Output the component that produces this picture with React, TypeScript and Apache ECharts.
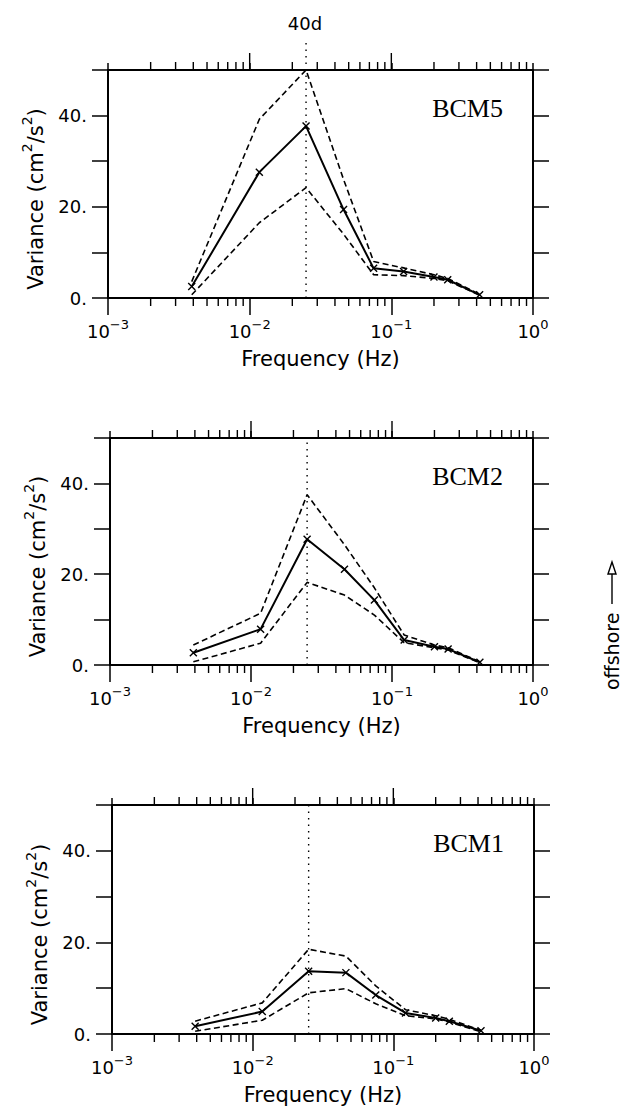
import React, { useEffect, useRef } from 'react';
import * as echarts from 'echarts';

// ---- data ----
const frequencies = [0.0039, 0.0117, 0.025, 0.046, 0.075, 0.122, 0.2, 0.25, 0.42];

const bcm5Mean = [2.5, 27.6, 37.7, 19.4, 6.5, 5.8, 4.6, 4.0, 0.7];
const bcm5Upper = [3.6, 39.2, 50.0, 26.0, 8.0, 6.6, 5.1, 4.3, 0.8];
const bcm5Lower = [0.7, 16.5, 24.2, 14.0, 5.1, 4.9, 4.3, 3.8, 0.6];

const bcm2Mean = [2.7, 7.9, 27.7, 21.1, 14.3, 5.5, 4.0, 3.5, 0.6];
const bcm2Upper = [4.4, 11.4, 37.5, 26.5, 17.0, 6.6, 4.4, 3.8, 0.7];
const bcm2Lower = [0.7, 4.8, 18.2, 15.4, 11.0, 4.9, 3.8, 3.3, 0.5];

const bcm1Mean = [1.7, 4.9, 13.7, 13.4, 8.5, 4.6, 3.5, 2.8, 0.7];
const bcm1Upper = [2.8, 6.8, 18.5, 17.0, 10.5, 5.3, 4.0, 3.2, 0.8];
const bcm1Lower = [0.6, 3.0, 9.0, 9.9, 6.6, 4.0, 3.3, 2.6, 0.5];

const panelNames = ['BCM5', 'BCM2', 'BCM1'];
const yLabelValues = [0, 20, 40];
const minorTicks = [
  0.002, 0.003, 0.004, 0.005, 0.006, 0.007, 0.008, 0.009,
  0.02, 0.03, 0.04, 0.05, 0.06, 0.07, 0.08, 0.09,
  0.2, 0.3, 0.4, 0.5, 0.6, 0.7, 0.8, 0.9,
];
const topMajorTicks = [0.01, 0.1];
const refFreq = 0.025;
const refLabel = '40d';
const refTopPanel1 = 57;

// ---- layout ----
const GRIDS = [
  { left: 108, top: 70, width: 425, height: 228 },
  { left: 110, top: 438, width: 423, height: 227 },
  { left: 112, top: 805, width: 422, height: 229 },
];
const SANS = 'DejaVu Sans, Verdana, sans-serif';
const SERIF = 'Liberation Serif, Times New Roman, serif';

const panels = [
  { name: panelNames[0], mean: bcm5Mean, upper: bcm5Upper, lower: bcm5Lower },
  { name: panelNames[1], mean: bcm2Mean, upper: bcm2Upper, lower: bcm2Lower },
  { name: panelNames[2], mean: bcm1Mean, upper: bcm1Upper, lower: bcm1Lower },
];

const zip = (ys: number[]) => frequencies.map((f, i) => [f, ys[i]]);

function buildOption() {
  const grid: any[] = [];
  const xAxis: any[] = [];
  const yAxis: any[] = [];
  const series: any[] = [];
  const graphic: any[] = [];

  const axisLine = { show: true, onZero: false, lineStyle: { color: '#000', width: 2 } };
  const tickStyle = { color: '#000', width: 1.5 };

  panels.forEach((p, i) => {
    const g = GRIDS[i];
    grid.push({ left: g.left, top: g.top, width: g.width, height: g.height, containLabel: false });

    xAxis.push({
      type: 'log',
      logBase: 10,
      gridIndex: i,
      position: 'bottom',
      min: 0.001,
      max: 1,
      axisLine,
      axisTick: { show: true, length: 17, lineStyle: tickStyle },
      splitLine: { show: false },
      axisLabel: {
        margin: 20,
        color: '#000',
        formatter: (v: number) => {
          const e = Math.round(Math.log10(v));
          return `{a|10}{b|${e < 0 ? '\u2212' + -e : e}}`;
        },
        rich: {
          a: { fontFamily: SANS, fontSize: 18, lineHeight: 22, verticalAlign: 'bottom', color: '#000' },
          b: { fontFamily: SANS, fontSize: 13, lineHeight: 13, verticalAlign: 'top', color: '#000' },
        },
      },
      name: 'Frequency (Hz)',
      nameLocation: 'middle',
      nameGap: 50,
      nameTextStyle: { fontFamily: SANS, fontSize: 21, color: '#000' },
    });
    xAxis.push({
      type: 'log',
      logBase: 10,
      gridIndex: i,
      position: 'top',
      min: 0.001,
      max: 1,
      axisLine,
      axisTick: { show: true, length: 7, lineStyle: tickStyle },
      splitLine: { show: false },
      axisLabel: { show: false },
    });

    yAxis.push({
      type: 'value',
      gridIndex: i,
      position: 'left',
      min: 0,
      max: 50,
      interval: 10,
      axisLine,
      axisTick: { show: true, length: 16, lineStyle: tickStyle },
      splitLine: { show: false },
      axisLabel: {
        margin: 21,
        color: '#000',
        fontFamily: SANS,
        fontSize: 18,
        formatter: (v: number) => (yLabelValues.includes(v) ? `${v}.` : ''),
      },
      name: '{n|Variance (cm}{s|2}{n|/s}{s|2}{n|)}',
      nameLocation: 'middle',
      nameRotate: 90,
      nameGap: 62,
      nameTextStyle: {
        color: '#000',
        padding: [0, 30, 0, 0],
        rich: {
          n: { fontFamily: SANS, fontSize: 21, lineHeight: 26, verticalAlign: 'bottom', color: '#000' },
          s: { fontFamily: SANS, fontSize: 14, lineHeight: 14, verticalAlign: 'top', color: '#000' },
        },
      },
    });
    yAxis.push({
      type: 'value',
      gridIndex: i,
      position: 'right',
      min: 0,
      max: 50,
      interval: 10,
      axisLine,
      axisTick: { show: true, length: 16, lineStyle: tickStyle },
      splitLine: { show: false },
      axisLabel: { show: false },
    });

    const xi = i * 2;
    const yi = i * 2;

    series.push({
      type: 'line',
      xAxisIndex: xi,
      yAxisIndex: yi,
      data: [
        [refFreq, 0],
        [refFreq, i === 0 ? refTopPanel1 : 50],
      ],
      symbol: 'none',
      clip: false,
      lineStyle: { color: '#000', width: 1.4, type: [1.5, 5] },
      silent: true,
      z: 1,
    });
    [p.upper, p.lower].forEach((band) => {
      series.push({
        type: 'line',
        xAxisIndex: xi,
        yAxisIndex: yi,
        data: zip(band),
        symbol: 'none',
        clip: false,
        lineStyle: { color: '#000', width: 1.6, type: [6, 3.5] },
        silent: true,
        z: 2,
      });
    });
    series.push({
      type: 'line',
      xAxisIndex: xi,
      yAxisIndex: yi,
      data: zip(p.mean),
      symbol: 'path://M0,0L10,10M10,0L0,10',
      symbolSize: 7,
      showSymbol: true,
      clip: false,
      itemStyle: { color: 'none', borderColor: '#000', borderWidth: 1.4 },
      lineStyle: { color: '#000', width: 2 },
      silent: true,
      z: 3,
    });
    // minor ticks (2..9 x 10^n) on bottom and top axes, plus long top ticks at inner decades
    const tickData = [
      ...minorTicks.map((v) => [v, 0, 8, 8]),
      ...topMajorTicks.map((v) => [v, 0, 0, 17]),
    ];
    series.push({
      type: 'custom',
      xAxisIndex: xi,
      yAxisIndex: yi,
      data: tickData,
      encode: { x: 0, y: 1 },
      clip: false,
      silent: true,
      renderItem: (_params: any, api: any) => {
        const v = api.value(0);
        const lenBottom = api.value(2);
        const lenTop = api.value(3);
        const b = api.coord([v, 0]);
        const t = api.coord([v, 50]);
        const style = { stroke: '#000', lineWidth: 1.4 };
        const children: any[] = [];
        if (lenBottom > 0) {
          children.push({ type: 'line', shape: { x1: b[0], y1: b[1], x2: b[0], y2: b[1] + lenBottom }, style });
        }
        if (lenTop > 0) {
          children.push({ type: 'line', shape: { x1: t[0], y1: t[1], x2: t[0], y2: t[1] - lenTop }, style });
        }
        return { type: 'group', children };
      },
    });

    graphic.push({
      type: 'text',
      x: g.left + g.width - 30,
      y: g.top + 38,
      style: {
        text: p.name,
        fontFamily: SERIF,
        fontSize: 26,
        fill: '#000',
        align: 'right',
        verticalAlign: 'middle',
      },
    });
  });

  graphic.push({
    type: 'text',
    x: 305,
    y: 23,
    style: { text: refLabel, fontFamily: SANS, fontSize: 18, fill: '#000', align: 'center', verticalAlign: 'middle' },
  });

  graphic.push({
    type: 'group',
    x: 612,
    y: 690,
    rotation: Math.PI / 2,
    children: [
      {
        type: 'text',
        x: 0,
        y: 0,
        style: { text: 'offshore', fontFamily: SANS, fontSize: 19, fill: '#000', align: 'left', verticalAlign: 'middle' },
      },
      { type: 'line', shape: { x1: 86, y1: 0, x2: 116, y2: 0 }, style: { stroke: '#000', lineWidth: 1.4 } },
      {
        type: 'polygon',
        shape: { points: [[116, -4], [128, 0], [116, 4]] },
        style: { stroke: '#000', fill: '#fff', lineWidth: 1.4 },
      },
    ],
  });

  return {
    animation: false,
    backgroundColor: '#fff',
    grid,
    xAxis,
    yAxis,
    series,
    graphic,
  };
}

export default function App() {
  const ref = useRef<HTMLDivElement>(null);
  useEffect(() => {
    if (!ref.current) return;
    const chart = echarts.init(ref.current, undefined, { renderer: 'svg' });
    chart.setOption(buildOption() as any);
    return () => chart.dispose();
  }, []);
  return (
    <div
      ref={ref}
      style={{ position: 'fixed', left: 0, top: 0, width: 628, height: 1110, background: '#fff' }}
    />
  );
}
